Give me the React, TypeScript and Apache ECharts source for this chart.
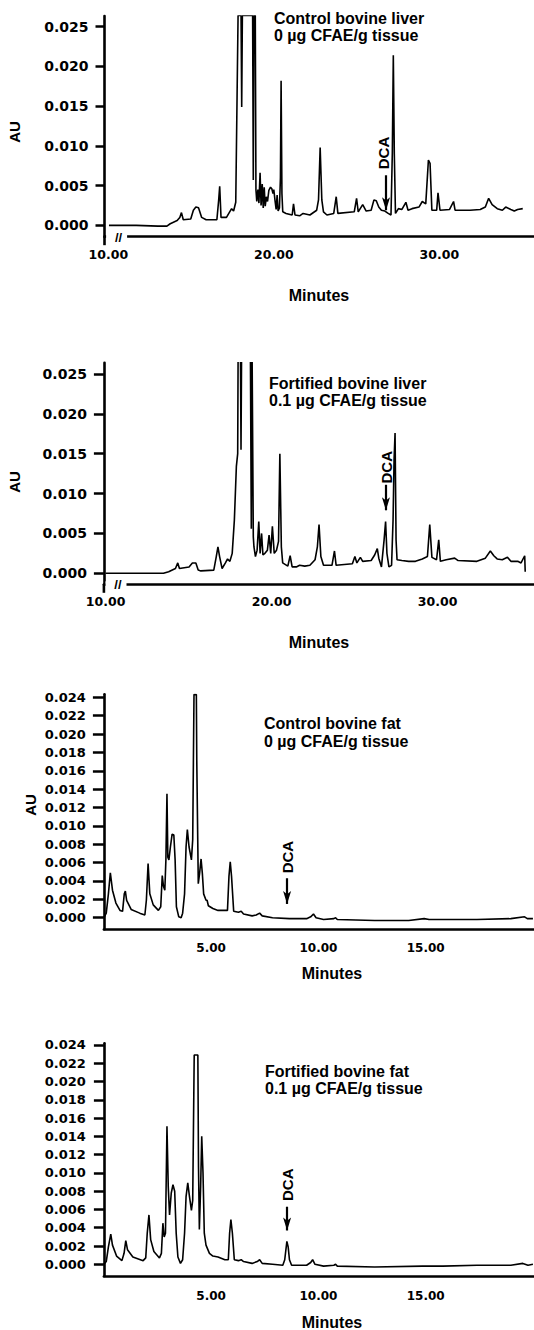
import React, { useEffect, useRef } from "react";
import * as echarts from "echarts";

// ---------- data (minutes, AU) ----------
const liverControl: number[][] = [
  [10.04, 0.0], [11.69, 0.0], [13.0, -0.0001], [13.54, -0.0001], [13.74, 0.0002], [14.16, 0.0006], [14.32, 0.001], [14.42, 0.0016], [14.53, 0.0007], [14.98, 0.0008], [15.14, 0.0019], [15.29, 0.0023], [15.45, 0.0022], [15.64, 0.001], [15.91, 0.0007], [16.56, 0.0007], [16.67, 0.0032], [16.73, 0.0049], [16.81, 0.001], [17.14, 0.001], [17.28, 0.0015], [17.45, 0.0021], [17.57, 0.0018], [17.7, 0.0029], [17.78, 0.0162], [17.84, 0.0264], [18.02, 0.0264], [18.06, 0.0149], [18.1, 0.0264], [18.72, 0.0264], [18.76, 0.0057], [18.8, 0.0264], [18.88, 0.0264], [18.92, 0.0045], [18.97, 0.003], [19.04, 0.0045], [19.1, 0.0028], [19.17, 0.0066], [19.23, 0.0025], [19.3, 0.0052], [19.36, 0.0022], [19.42, 0.0048], [19.48, 0.0024], [19.55, 0.0036], [19.62, 0.003], [19.7, 0.0044], [19.8, 0.0048], [19.88, 0.0046], [19.95, 0.004], [20.0, 0.0045], [20.08, 0.003], [20.14, 0.002], [20.2, 0.0038], [20.26, 0.0018], [20.34, 0.0022], [20.4, 0.006], [20.44, 0.0182], [20.49, 0.004], [20.54, 0.0017], [20.74, 0.0015], [21.11, 0.0013], [21.19, 0.0027], [21.28, 0.0013], [21.56, 0.0012], [21.77, 0.0015], [22.18, 0.0013], [22.59, 0.0019], [22.7, 0.0032], [22.8, 0.0098], [22.9, 0.0032], [23.0, 0.0017], [23.21, 0.0013], [23.62, 0.0015], [23.77, 0.0036], [23.87, 0.0015], [24.86, 0.0017], [25.0, 0.0034], [25.1, 0.0017], [25.37, 0.0026], [25.58, 0.0018], [25.88, 0.0019], [26.05, 0.0032], [26.19, 0.0031], [26.34, 0.0023], [26.5, 0.0019], [26.71, 0.0018], [26.91, 0.0015], [27.08, 0.0013], [27.16, 0.0091], [27.22, 0.0214], [27.28, 0.009], [27.35, 0.0015], [27.53, 0.0021], [27.74, 0.002], [27.98, 0.0029], [28.11, 0.0019], [28.35, 0.0021], [28.77, 0.0023], [28.97, 0.003], [29.18, 0.0027], [29.34, 0.0082], [29.44, 0.0078], [29.55, 0.0019], [29.84, 0.0019], [29.92, 0.0041], [30.04, 0.0019], [30.62, 0.002], [30.86, 0.003], [30.95, 0.0019], [31.85, 0.0019], [32.47, 0.002], [32.78, 0.0023], [32.98, 0.0034], [33.19, 0.0026], [33.5, 0.0021], [33.81, 0.0019], [34.01, 0.0023], [34.32, 0.002], [34.53, 0.0018], [34.73, 0.002], [35.04, 0.0021],
];

const liverFortified: number[][] = [
  [10.0, 0.0], [13.49, 0.0], [13.8, 0.0002], [14.21, 0.0006], [14.35, 0.0013], [14.45, 0.0006], [15.03, 0.0008], [15.23, 0.0013], [15.44, 0.0013], [15.58, 0.0004], [15.74, 0.0003], [16.52, 0.0004], [16.67, 0.0021], [16.77, 0.0033], [16.87, 0.0021], [17.02, 0.0006], [17.22, 0.0013], [17.35, 0.0018], [17.49, 0.0015], [17.63, 0.0025], [17.76, 0.0067], [17.88, 0.0134], [17.96, 0.015], [17.99, 0.03], [18.12, 0.03], [18.16, 0.0155], [18.2, 0.03], [18.72, 0.03], [18.78, 0.0056], [18.82, 0.03], [18.86, 0.03], [18.9, 0.0046], [18.94, 0.0033], [19.03, 0.0021], [19.13, 0.0029], [19.23, 0.0065], [19.31, 0.0025], [19.4, 0.005], [19.48, 0.0023], [19.6, 0.0025], [19.75, 0.0029], [19.85, 0.0048], [19.95, 0.0025], [20.05, 0.0059], [20.16, 0.0025], [20.3, 0.0029], [20.42, 0.004], [20.5, 0.015], [20.59, 0.0033], [20.67, 0.0013], [20.98, 0.0009], [21.12, 0.0022], [21.24, 0.0008], [21.49, 0.0008], [21.69, 0.001], [22.0, 0.0009], [22.31, 0.001], [22.62, 0.0017], [22.76, 0.0033], [22.86, 0.0061], [22.97, 0.0021], [23.13, 0.001], [23.64, 0.001], [23.79, 0.0028], [23.89, 0.001], [24.87, 0.0012], [25.02, 0.0021], [25.14, 0.0013], [25.35, 0.002], [25.49, 0.0015], [26.0, 0.0016], [26.21, 0.0023], [26.37, 0.0031], [26.46, 0.0019], [26.62, 0.0008], [26.78, 0.0042], [26.87, 0.0065], [26.95, 0.0025], [27.07, 0.0008], [27.23, 0.001], [27.32, 0.0067], [27.38, 0.0142], [27.44, 0.0176], [27.5, 0.0042], [27.56, 0.0017], [27.85, 0.0016], [28.26, 0.0015], [28.67, 0.0015], [29.08, 0.0018], [29.39, 0.0021], [29.53, 0.0061], [29.66, 0.002], [29.94, 0.0017], [30.07, 0.0042], [30.17, 0.0015], [30.52, 0.0017], [31.03, 0.0019], [31.24, 0.0016], [32.37, 0.0015], [32.88, 0.0019], [33.18, 0.0028], [33.39, 0.0022], [33.59, 0.0018], [33.9, 0.0017], [34.21, 0.002], [34.42, 0.0015], [34.83, 0.0015], [35.03, 0.0013], [35.25, 0.0022], [35.28, 0.0002],
];

const fatControl: number[][] = [
  [0.0, 0.0], [0.11, 0.0005], [0.21, 0.0026], [0.3, 0.0049], [0.4, 0.003], [0.56, 0.0016], [0.75, 0.0008], [0.87, 0.0007], [0.95, 0.0026], [1.0, 0.0029], [1.06, 0.0019], [1.27, 0.0009], [1.67, 0.0005], [1.91, 0.0003], [1.98, 0.0019], [2.06, 0.0059], [2.14, 0.0026], [2.3, 0.0014], [2.54, 0.0008], [2.65, 0.0012], [2.72, 0.0046], [2.78, 0.0034], [2.84, 0.003], [2.89, 0.0063], [2.94, 0.0135], [2.98, 0.0066], [3.03, 0.0063], [3.1, 0.0077], [3.18, 0.0091], [3.26, 0.009], [3.32, 0.0063], [3.38, 0.0012], [3.49, 0.0001], [3.6, 0.0], [3.67, 0.0005], [3.76, 0.0026], [3.83, 0.0077], [3.89, 0.0096], [3.97, 0.0077], [4.08, 0.0063], [4.14, 0.0085], [4.2, 0.0243], [4.31, 0.0243], [4.33, 0.017], [4.4, 0.0037], [4.46, 0.0048], [4.53, 0.0064], [4.59, 0.0048], [4.65, 0.0026], [4.76, 0.0019], [4.81, 0.0019], [4.87, 0.0013], [5.08, 0.001], [5.32, 0.0008], [5.76, 0.0008], [5.83, 0.0045], [5.89, 0.0061], [5.95, 0.0045], [6.05, 0.0007], [6.27, 0.0006], [6.4, 0.0007], [6.51, 0.0004], [6.91, 0.0002], [7.1, 0.0003], [7.26, 0.0005], [7.38, 0.0002], [7.86, 0.0], [8.65, -0.0001], [9.45, -0.0001], [9.64, 0.0001], [9.77, 0.0004], [9.89, 0.0], [10.24, -0.0002], [10.72, -0.0001], [10.8, 0.0], [10.88, -0.0002], [12.62, -0.0003], [14.21, -0.0003], [14.93, -0.0001], [15.16, -0.0002], [17.39, -0.0002], [18.97, -0.0001], [19.61, 0.0001], [19.74, -0.0001], [20.0, -0.0001],
];

const fatFortified: number[][] = [
  [0.0, 0.0], [0.11, 0.0003], [0.21, 0.0019], [0.32, 0.0033], [0.4, 0.0021], [0.59, 0.0009], [0.84, 0.0004], [0.94, 0.0012], [1.02, 0.0026], [1.1, 0.0016], [1.35, 0.0008], [1.83, 0.0004], [1.95, 0.0007], [2.02, 0.0034], [2.1, 0.0054], [2.18, 0.0027], [2.33, 0.0014], [2.59, 0.0007], [2.68, 0.0012], [2.75, 0.0045], [2.81, 0.003], [2.87, 0.0034], [2.94, 0.0151], [3.0, 0.0085], [3.06, 0.0054], [3.14, 0.0078], [3.22, 0.0087], [3.3, 0.008], [3.37, 0.0034], [3.45, 0.0008], [3.57, 0.0001], [3.67, 0.0005], [3.76, 0.0034], [3.83, 0.0074], [3.91, 0.0089], [3.99, 0.0074], [4.08, 0.0059], [4.14, 0.007], [4.21, 0.0229], [4.38, 0.0229], [4.41, 0.0107], [4.45, 0.0038], [4.51, 0.0085], [4.56, 0.014], [4.62, 0.01], [4.68, 0.0034], [4.76, 0.0021], [4.92, 0.0012], [5.08, 0.0009], [5.32, 0.0008], [5.64, 0.0005], [5.8, 0.0005], [5.86, 0.0034], [5.92, 0.0049], [5.99, 0.0034], [6.08, 0.0005], [6.27, 0.0004], [6.4, 0.0005], [6.51, 0.0003], [6.91, 0.0001], [7.15, 0.0003], [7.26, 0.0005], [7.38, 0.0001], [7.86, 0.0], [8.34, -0.0001], [8.43, 0.0005], [8.53, 0.0025], [8.59, 0.0019], [8.65, 0.0005], [8.75, -0.0001], [9.45, -0.0001], [9.64, 0.0002], [9.73, 0.0005], [9.84, 0.0], [10.24, -0.0002], [10.72, -0.0001], [10.8, 0.0], [10.88, -0.0002], [12.62, -0.0003], [14.85, -0.0002], [15.8, -0.0002], [17.39, -0.0001], [18.97, -0.0001], [19.53, 0.0001], [19.77, -0.0001], [20.0, 0.0],
];

// tick labels
const liverYTicks = [0, 0.005, 0.01, 0.015, 0.02, 0.025];
const fatYTicks = [0, 0.002, 0.004, 0.006, 0.008, 0.01, 0.012, 0.014, 0.016, 0.018, 0.02, 0.022, 0.024];
const liverXTicks = [10, 20, 30];
const fatXTicks = [5, 10, 15];

// titles
const titleLines = [
  ["Control bovine liver", "0 µg CFAE/g tissue"],
  ["Fortified bovine liver", "0.1 µg CFAE/g tissue"],
  ["Control bovine fat", "0 µg CFAE/g tissue"],
  ["Fortified bovine fat", "0.1 µg CFAE/g tissue"],
];

// DCA arrow: time, arrow start value, arrow end value, label time, label value
const dcaTime = [26.78, 26.89, 8.54, 8.54];
const dcaArrowFrom = [0.0063, 0.0111, 0.0043, 0.0063];
const dcaArrowTo = [0.0019, 0.0079, 0.0015, 0.0037];
const dcaLabelTime = [26.6, 26.93, 8.57, 8.57];
const dcaLabelValue = [0.0091, 0.0133, 0.0066, 0.0087];

// ---------- layout ----------
const TICK_FONT = "'DejaVu Sans', sans-serif";
const TEXT_FONT = "'Liberation Sans', Arial, sans-serif";

const layouts = [
  { left: 104.5, top: 16, height: 220.7, xMin: 9.77, xMax: 35.72, yMin: -0.00143, yMax: 0.02634, yFont: 14, xFont: 12.5, yMargin: 16, xMargin: 11, tickLen: 9, titleX: 274, titleY: 18, au: [14, 132], minutes: [319, 295] },
  { left: 103.9, top: 362.7, height: 221.6, xMin: 9.9, xMax: 35.81, yMin: -0.00138, yMax: 0.02641, yFont: 14, xFont: 12.5, yMargin: 17, xMargin: 11, tickLen: 10, titleX: 269, titleY: 383.2, au: [14, 482], minutes: [319, 642] },
  { left: 103.9, top: 694.3, height: 235, xMin: 0, xMax: 20.05, yMin: -0.00126, yMax: 0.02433, yFont: 13, xFont: 12, yMargin: 18, xMargin: 13, tickLen: 11, titleX: 264, titleY: 723.7, au: [30, 805], minutes: [332, 973] },
  { left: 103.9, top: 1043.3, height: 232.7, xMin: 0, xMax: 20.05, yMin: -0.00128, yMax: 0.02418, yFont: 13, xFont: 12, yMargin: 18, xMargin: 14, tickLen: 10, titleX: 265, titleY: 1071.2, au: null as null | number[], minutes: [332, 1322] },
];

const seriesData = [liverControl, liverFortified, fatControl, fatFortified];
const yTickSets = [liverYTicks, liverYTicks, fatYTicks, fatYTicks];
const xTickSets = [liverXTicks, liverXTicks, fatXTicks, fatXTicks];

function txt(text: string, x: number, y: number, size: number, align: string, rotation = 0) {
  return {
    type: "text",
    x,
    y,
    rotation,
    z: 100,
    silent: true,
    style: {
      text,
      x: 0,
      y: 0,
      font: `bold ${size}px ${TEXT_FONT}`,
      fill: "#000",
      align,
      verticalAlign: "middle",
      textAlign: align,
      textVerticalAlign: "middle",
    },
  };
}

export default function App() {
  const ref = useRef<HTMLDivElement>(null);

  useEffect(() => {
    if (!ref.current) return;
    const chart = echarts.init(ref.current, null, { renderer: "svg" });

    const option: any = {
      animation: false,
      backgroundColor: "#fff",
      grid: layouts.map((l) => ({
        left: l.left,
        top: l.top,
        width: 534 - l.left,
        height: l.height,
        containLabel: false,
        outerBoundsMode: "none",
      })),
      xAxis: layouts.map((l, i) => ({
        type: "value",
        gridIndex: i,
        min: l.xMin,
        max: l.xMax,
        axisLine: { show: true, onZero: false, lineStyle: { color: "#000", width: 2.6 } },
        axisTick: { show: false },
        splitLine: { show: false },
        axisLabel: {
          customValues: xTickSets[i],
          formatter: (v: number) => v.toFixed(2),
          color: "#000",
          fontFamily: TICK_FONT,
          fontWeight: "bold",
          fontSize: l.xFont,
          margin: l.xMargin,
        },
      })),
      yAxis: layouts.map((l, i) => ({
        type: "value",
        gridIndex: i,
        min: l.yMin,
        max: l.yMax,
        axisLine: { show: true, onZero: false, lineStyle: { color: "#000", width: 2.6 } },
        axisTick: { show: true, length: l.tickLen, customValues: yTickSets[i], lineStyle: { color: "#000", width: 2.5 } },
        splitLine: { show: false },
        axisLabel: {
          customValues: yTickSets[i],
          formatter: (v: number) => v.toFixed(3),
          color: "#000",
          fontFamily: TICK_FONT,
          fontWeight: "bold",
          fontSize: l.yFont,
          margin: l.yMargin,
        },
      })),
      series: seriesData.map((d, i) => ({
        type: "line",
        xAxisIndex: i,
        yAxisIndex: i,
        data: d,
        symbol: "none",
        showSymbol: false,
        silent: true,
        clip: true,
        lineStyle: { color: "#000", width: 1.6 },
        markLine: {
          silent: true,
          animation: false,
          symbol: ["none", "arrow"],
          symbolSize: [6, 13],
          label: { show: false },
          lineStyle: { color: "#000", width: 2.2, type: "solid" },
          data: [[{ coord: [dcaTime[i], dcaArrowFrom[i]] }, { coord: [dcaTime[i], dcaArrowTo[i]] }]],
        },
      })),
    };
    chart.setOption(option);

    const elements: any[] = [];
    layouts.forEach((l, i) => {
      elements.push(txt(titleLines[i][0], l.titleX, l.titleY, 16, "left"));
      elements.push(txt(titleLines[i][1], l.titleX, l.titleY + 17.6, 16, "left"));
      if (l.au) elements.push(txt("AU", l.au[0], l.au[1], 15, "center", Math.PI / 2));
      elements.push(txt("Minutes", l.minutes[0], l.minutes[1], 16, "center"));
      const p = chart.convertToPixel({ gridIndex: i }, [dcaLabelTime[i], dcaLabelValue[i]]) as number[];
      if (p) elements.push(txt("DCA", p[0], p[1], 15, "center", Math.PI / 2));
    });
    // axis break marks on the liver panels
    [0, 1].forEach((i) => {
      const l = layouts[i];
      const axisY = l.top + l.height;
      elements.push({ type: "rect", z: 99, silent: true, shape: { x: l.left + 1.6, y: axisY - 3, width: 21, height: 6 }, style: { fill: "#fff" } });
      elements.push({ type: "line", z: 99, silent: true, shape: { x1: l.left, y1: axisY, x2: l.left, y2: axisY + 8.5 }, style: { stroke: "#000", lineWidth: 2.6 } });
      elements.push(txt("//", l.left + 14, axisY + 0.5, 13, "center"));
    });
    chart.setOption({ graphic: { elements } });

    return () => chart.dispose();
  }, []);

  return (
    <div
      ref={ref}
      style={{ position: "absolute", left: 0, top: 0, width: 534, height: 1330, background: "#fff" }}
    />
  );
}
